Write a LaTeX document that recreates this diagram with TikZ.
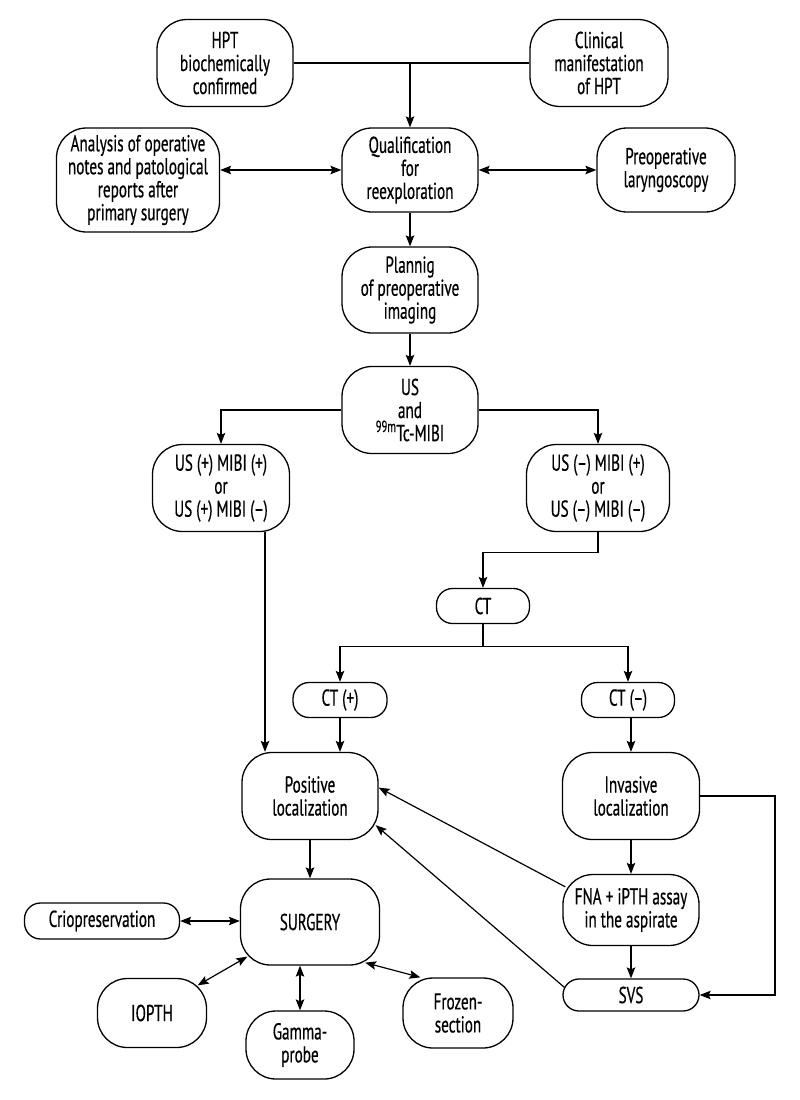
\documentclass[tikz,border=0pt]{standalone}
\usepackage{fontspec}
\setmainfont[FakeStretch=0.66,FakeBold=0.5]{PT Sans}
\usetikzlibrary{arrows.meta}
\begin{document}
\begin{tikzpicture}[x=1pt,y=-1pt,
  box/.style={draw, line width=1.3pt, rounded corners=30pt, align=center, inner sep=0pt, font=\fontsize{23}{23}\selectfont},
  sbox/.style={box, rounded corners=16pt},
  sz/.style 2 args={minimum width=#1pt, minimum height=#2pt},
  ln/.style={line width=1.2pt},
  arr/.style={ln, -{Stealth[length=11pt,width=8.5pt,inset=2pt]}},
  darr/.style={ln, {Stealth[length=11pt,width=8.5pt,inset=2pt]}-{Stealth[length=11pt,width=8.5pt,inset=2pt]}}]
\useasboundingbox (0,0) rectangle (800,1100);
\fill[white] (0,0) rectangle (800,1100);
% nodes
\node[box,sz={136}{87}] (hpt) at (225,63) {HPT\\biochemically\\confirmed};
\node[box,sz={138}{87}] (clin) at (599,63) {Clinical\\manifestation\\of HPT};
\node[box,sz={136}{84}] (qual) at (410,170) {Qualification\\for\\reexploration};
\node[box,sz={163}{104}] (anal) at (138,180) {Analysis of operative\\notes and patological\\reports after\\primary surgery};
\node[box,sz={138}{84}] (lar) at (666,170) {Preoperative\\laryngoscopy};
\node[box,sz={136}{86}] (plan) at (410,290) {Plannig\\of preoperative\\imaging};
\node[box,sz={136}{87}] (us) at (410,410) {US\\and\\\textsuperscript{99m}Tc-MIBI};
\node[box,sz={137}{87}] (usp) at (221,488) {US (+) MIBI (+)\\or\\US (+) MIBI (–)};
\node[box,sz={143}{87}] (usm) at (598,488) {US (–) MIBI (+)\\or\\US (–) MIBI (–)};
\node[sbox,sz={93}{35}] (ct) at (483,606) {CT};
\node[sbox,sz={94}{35}] (ctp) at (340,700) {CT (+)};
\node[sbox,sz={93}{35}] (ctm) at (628,700) {CT (–)};
\node[box,sz={136}{87}] (pos) at (310,796) {Positive\\localization};
\node[box,sz={137}{87}] (inv) at (631,796) {Invasive\\localization};
\node[box,sz={136}{71}] (fna) at (631,910) {FNA + iPTH assay\\in the aspirate};
\node[sbox,sz={136}{32}] (svs) at (631,995) {SVS};
\node[box,sz={139}{86}] (surg) at (310,922) {SURGERY};
\node[sbox,sz={155}{36}] (crio) at (102,921) {Criopreservation};
\node[box,sz={109}{69}] (iopth) at (152,1013) {IOPTH};
\node[box,sz={108}{68}] (gamma) at (300,1045) {Gamma-\\probe};
\node[box,sz={110}{70}] (frozen) at (458,1013) {Frozen-\\section};
\coordinate (lx) at (265,0);
\coordinate (rx) at (775,0);
% connectors
\draw[ln] (hpt.east) -- (clin.west);
\draw[arr] (qual.north |- hpt.east) -- (qual.north);
\draw[darr] (anal.east |- qual.west) -- (qual.west);
\draw[darr] (qual.east) -- (qual.east -| lar.west);
\draw[arr] (qual.south) -- (plan.north);
\draw[arr] (plan.south) -- (us.north);
\draw[arr] (us.west) -| (usp.north);
\draw[arr] (us.east) -| (usm.north);
\draw[arr] (usp.south -| lx) -- (pos.north -| lx);
\draw[arr] (usm.south) -- ++(0,20) -| (ct.north);
\draw[ln] (ct.south) -- ++(0,22) coordinate (ctj);
\draw[arr] (ctj) -| (ctp.north);
\draw[arr] (ctj) -| (ctm.north);
\draw[arr] (ctp.south) -- (ctp.south |- pos.north);
\draw[arr] (inv.north |- ctm.south) -- (inv.north);
\draw[arr] (inv.south) -- (fna.north);
\draw[arr] (fna.south) -- (svs.north);
\draw[arr] (inv.east) -- (inv.east -| rx) |- (svs.east);
\draw[arr] ([shift={(3,13)}]fna.north west) -- (pos.7);
\draw[arr] ([shift={(2,9)}]svs.north west) -- ([shift={(-3,-15)}]pos.south east);
\draw[arr] (pos.south) -- (surg.north);
\draw[darr] (crio.east) -- (crio.east -| surg.west);
\draw[darr] ([shift={(-9.5,7.5)}]iopth.north east) -- ([shift={(7.5,-9)}]surg.south west);
\draw[darr] (gamma.north) -- (gamma.north |- surg.south);
\draw[darr] ([shift={(-15,-3)}]surg.south east) -- ([shift={(18,0)}]frozen.north west);
\end{tikzpicture}
\end{document}
